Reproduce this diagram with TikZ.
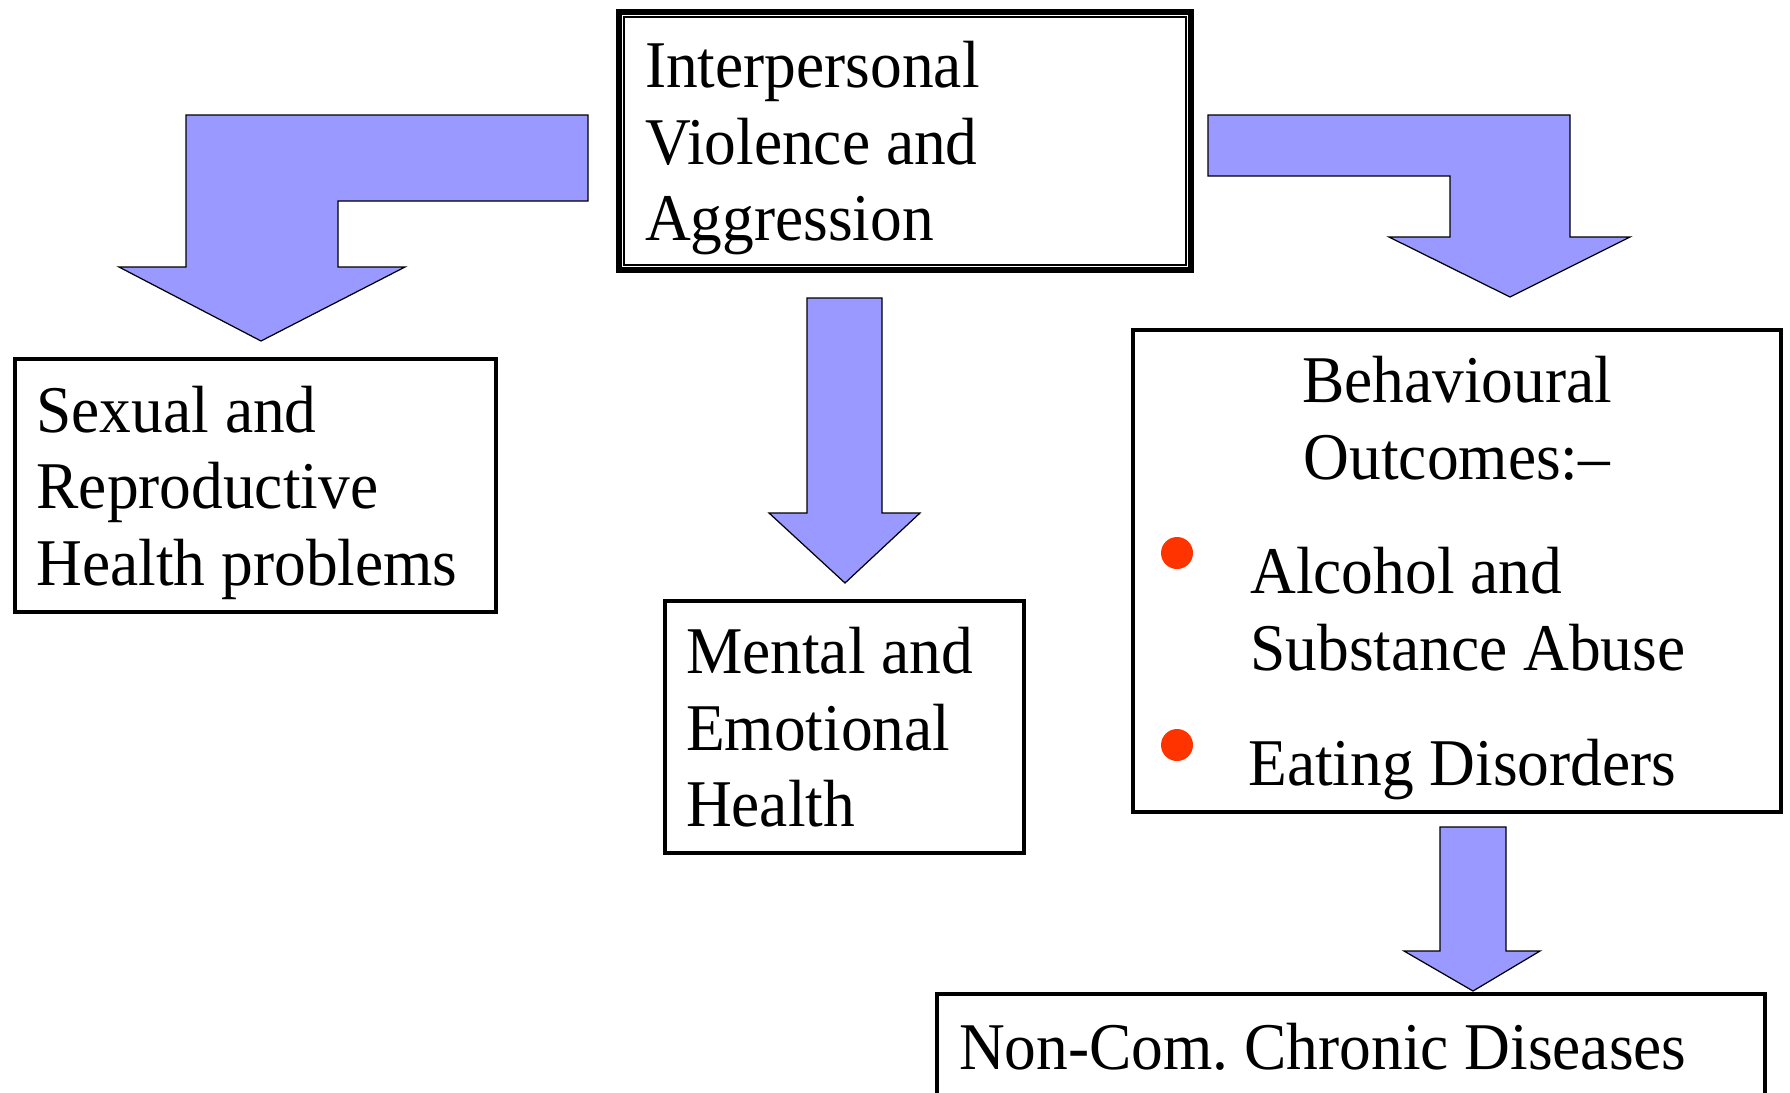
\documentclass[tikz,border=0pt]{standalone}
\usepackage{fontspec}
\setmainfont{Liberation Serif}[FakeStretch=0.95]
\usepackage{tikz}
\usetikzlibrary{shapes}
\definecolor{arrowblue}{RGB}{153,153,255}
\definecolor{dotred}{RGB}{255,51,0}
\frenchspacing
\tikzset{
	main box/.style={rectangle,draw,line width=2.4pt,outer sep=0pt,inner sep=0pt,
		align=flush left,text depth=87pt,font=\fontsize{38}{43.5}\selectfont},
	plain text/.style={inner sep=0pt,text depth=0pt,font=\fontsize{38}{43.5}\selectfont},
	block arrow/.style={draw,fill=arrowblue,line width=0.7pt,line join=miter},
	dot node/.style={circle,fill=dotred,minimum size=0.64cm,inner sep=0pt}
}

\begin{document}
\begin{tikzpicture}[x=0.02cm,y=-0.02cm]
	\useasboundingbox (0,0) rectangle (1790,1092);
	\node [main box,line width=3.2pt,minimum width=11.44cm,minimum height=5.16cm,text width=10.4cm] (top) at (905,141) {Interpersonal\\Violence and\\Aggression};
	\draw [line width=0.7pt] ([shift={(0.1cm,-0.1cm)}]top.north west) rectangle ([shift={(-0.1cm,0.1cm)}]top.south east);
	\node [main box,minimum width=9.62cm,minimum height=5.06cm,text width=8.76cm] (sexual) at (255.5,485.5) {Sexual and\\Reproductive\\Health problems};
	\node [main box,minimum width=7.18cm,minimum height=5.04cm,text width=6.34cm] (mental) at (844.5,727) {Mental and\\Emotional\\Health};
	\node [main box,minimum width=12.96cm,minimum height=9.64cm] (behav) at (1457,571) {};
	\node [plain text,align=center] (behavhead) at (1457,418) {Behavioural\\Outcomes:–};
	\node [dot node] (dot1) at (1177,553) {};
	\node [plain text,align=left,anchor=west] (alcohol) at (1250,609) {Alcohol and\\Substance Abuse};
	\node [dot node] (dot2) at (1177,745) {};
	\node [plain text,anchor=base west] (eating) at (1248,785) {Eating Disorders};
	\node [main box,text depth=0pt,minimum width=16.56cm,minimum height=2.1cm,text width=15.68cm] (chronic) at (1351,1046.5) {Non-Com. Chronic Diseases};

	\draw [block arrow] (588,115) -- (186,115) -- (186,267) -- (119,267) -- (261,341) -- (405,267) -- (338,267) -- (338,201) -- (588,201) -- cycle;
	\draw [block arrow] (1208,115) -- (1570,115) -- (1570,237) -- (1630,237) -- (1510,297) -- (1389,237) -- (1450,237) -- (1450,176) -- (1208,176) -- cycle;
	\draw [block arrow] (807,298) -- (882,298) -- (882,513) -- (920,513) -- (845,583) -- (769,513) -- (807,513) -- cycle;
	\draw [block arrow] (1440,827) -- (1506,827) -- (1506,951) -- (1540,951) -- (1473,991) -- (1404,951) -- (1440,951) -- cycle;
\end{tikzpicture}
\end{document}
